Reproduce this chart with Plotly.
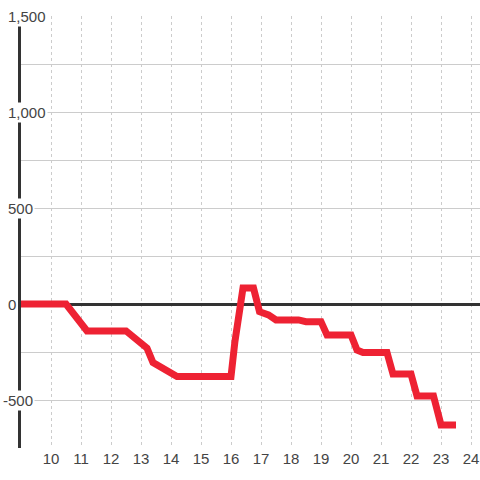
import plotly.graph_objects as go

hours = [9, 10.5, 11.2, 12.5, 13.2, 13.4, 14.2, 16.0, 16.13, 16.4, 16.75, 16.95, 17.25, 17.5,
         18.25, 18.5, 19.0, 19.2, 20.0, 20.2, 20.4, 21.2, 21.4, 22.0, 22.2, 22.75, 23.0, 23.5]
values = [0, 0, -140, -140, -230, -305, -378, -378, -196, 83, 83, -40, -57, -83,
          -83, -92, -92, -161, -161, -240, -253, -253, -365, -365, -479, -479, -630, -630]

x_ticks = list(range(10, 25))
y_label_vals = [1500, 1000, 500, 0, -500]
y_label_text = ["1,500", "1,000", "500", "0", "-500"]

FONT = "Liberation Sans, Arial, sans-serif"

fig = go.Figure()
fig.add_trace(go.Scatter(x=hours, y=values, mode="lines",
                         line=dict(color="#EE2233", width=7),
                         hoverinfo="skip"))

annotations = []
for v, t in zip(y_label_vals, y_label_text):
    annotations.append(dict(
        x=0, xref="paper", y=v, yref="y", text=t, showarrow=False,
        xanchor="left", yanchor="middle", xshift=-15 - (5 if t.startswith("-") else 0),
        bgcolor="white", borderpad=1,
        font=dict(family=FONT, size=15, color="#444")))

fig.update_layout(
    width=480, height=480,
    margin=dict(l=21, r=0, t=16, b=32, autoexpand=False),
    paper_bgcolor="white", plot_bgcolor="white",
    showlegend=False,
    annotations=annotations,
    xaxis=dict(range=[9, 24.3], tickvals=x_ticks, ticktext=[str(v) for v in x_ticks],
               showgrid=True, gridcolor="#cccccc", gridwidth=1, griddash="dot",
               zeroline=False, showline=False, ticks="", automargin=False,
               tickfont=dict(family=FONT, size=15, color="#444")),
    yaxis=dict(range=[-750, 1500], dtick=250, tick0=0,
               showgrid=True, gridcolor="#cccccc", gridwidth=1,
               zeroline=True, zerolinecolor="#333333", zerolinewidth=3,
               showline=True, linecolor="#333333", linewidth=3,
               showticklabels=False, ticks="", automargin=False),
)

fig.write_html("out.html", config={"displayModeBar": False, "staticPlot": True},
               post_script="document.body.style.margin='0';document.body.style.overflow='hidden';")
